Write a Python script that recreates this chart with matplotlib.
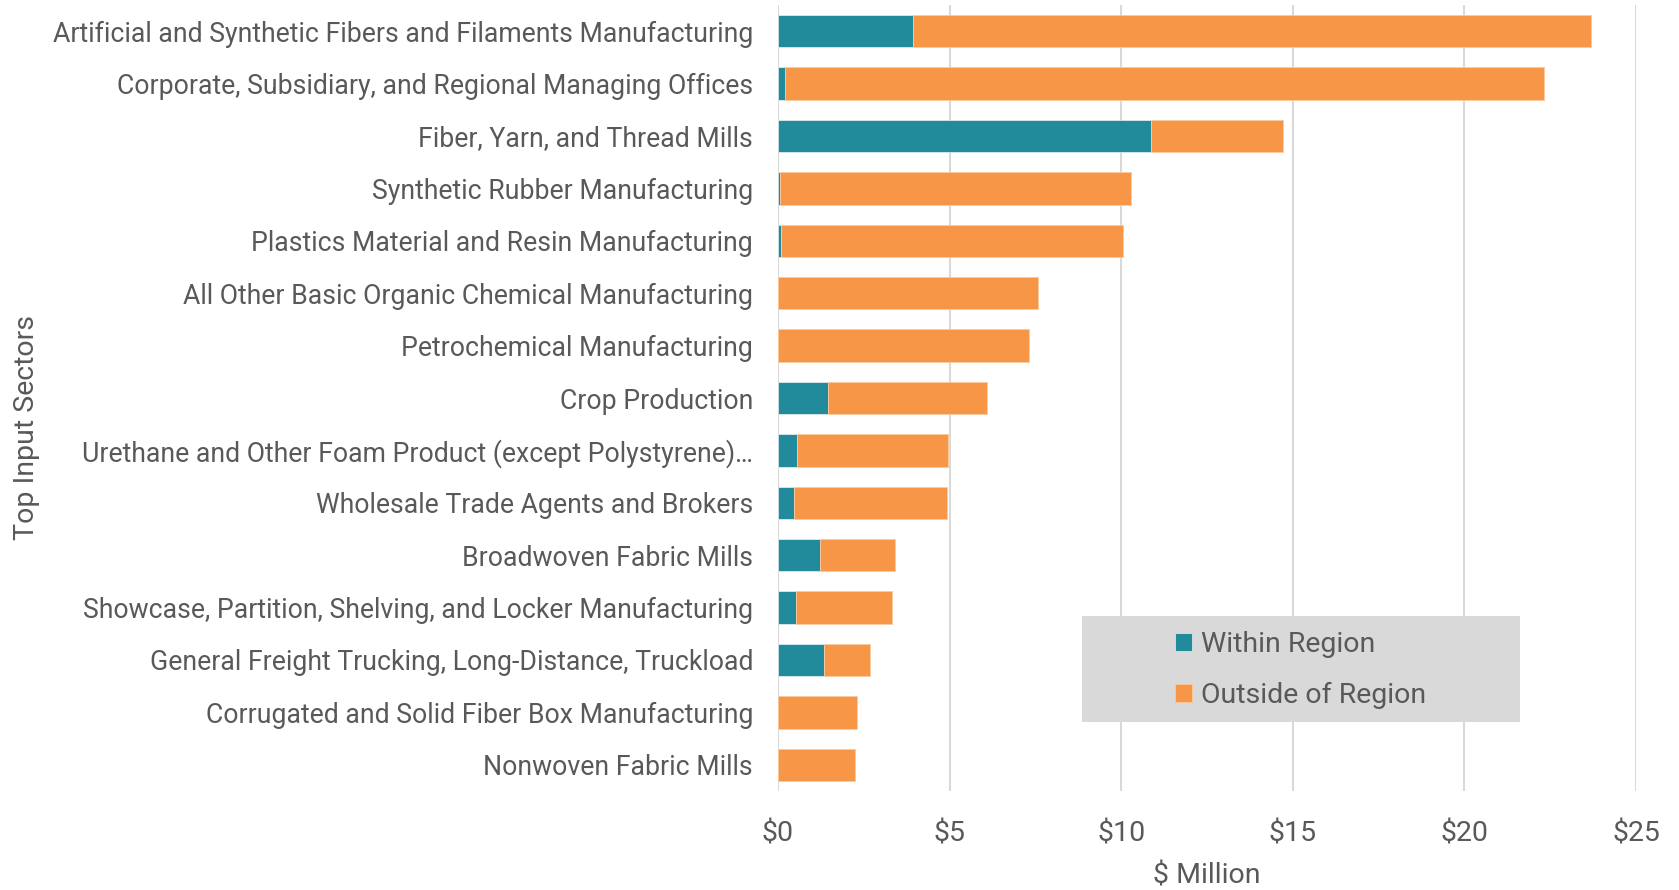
import matplotlib.pyplot as plt
from matplotlib.patches import Rectangle

plt.rcParams['font.family'] = ['Roboto', 'DejaVu Sans']

sectors = [
    "Artificial and Synthetic Fibers and Filaments Manufacturing",
    "Corporate, Subsidiary, and Regional Managing Offices",
    "Fiber, Yarn, and Thread Mills",
    "Synthetic Rubber Manufacturing",
    "Plastics Material and Resin Manufacturing",
    "All Other Basic Organic Chemical Manufacturing",
    "Petrochemical Manufacturing",
    "Crop Production",
    "Urethane and Other Foam Product (except Polystyrene)\u2026",
    "Wholesale Trade Agents and Brokers",
    "Broadwoven Fabric Mills",
    "Showcase, Partition, Shelving, and Locker Manufacturing",
    "General Freight Trucking, Long-Distance, Truckload",
    "Corrugated and Solid Fiber Box Manufacturing",
    "Nonwoven Fabric Mills",
]
within = [3.92, 0.20, 10.87, 0.05, 0.10, 0.0, 0.0, 1.47, 0.55, 0.48, 1.22, 0.52, 1.33, 0.0, 0.0]
total = [23.70, 22.33, 14.71, 10.30, 10.04, 7.58, 7.30, 6.10, 4.94, 4.91, 3.42, 3.32, 2.69, 2.29, 2.23]
outside = [t - w for t, w in zip(total, within)]

x_ticks = [0, 5, 10, 15, 20, 25]
x_labels = ['$' + str(v) for v in x_ticks]

teal = '#218B9C'
orange = '#F79646'
text_col = '#595959'

fig = plt.figure(figsize=(16.79, 8.90), dpi=100)
ax = fig.add_axes([778 / 1679, 1 - 791 / 890, 858 / 1679, 786 / 890])

pos = list(range(len(sectors)))
ax.barh(pos, within, height=0.62, color=teal, edgecolor='white', linewidth=0.4, label='Within Region')
ax.barh(pos, outside, left=within, height=0.62, color=orange, edgecolor='#FBC9A0', linewidth=0.6,
        label='Outside of Region')

ax.set_ylim(len(sectors) - 0.5, -0.5)
ax.set_xlim(0, 25)
ax.set_yticks(pos)
ax.set_yticklabels(sectors, fontsize=19.2, color=text_col)
ax.set_xticks(x_ticks)
ax.set_xticklabels(x_labels, fontsize=20.5, color=text_col)
ax.tick_params(axis='y', length=0, pad=18)
ax.tick_params(axis='x', length=0, pad=21)
for s in ax.spines.values():
    s.set_visible(False)
ax.grid(axis='x', color='#D9D9D9', linewidth=1.5)
ax.set_axisbelow(True)

ax.set_xlabel('$ Million', fontsize=20.5, color=text_col, labelpad=11)
fig.text(27 / 1679, 1 - 428 / 890, 'Top Input Sectors', rotation=90, fontsize=20.5,
         color=text_col, ha='center', va='center')

# legend box
ax.add_patch(Rectangle((0.3543, 0.0878), 0.5105, 0.1348, transform=ax.transAxes,
                       facecolor='#D9D9D9', edgecolor='none', zorder=3, clip_on=False))
leg = ax.legend(loc='center left', bbox_to_anchor=(0.4627, 0.154), frameon=False,
                fontsize=20.5, borderpad=0, borderaxespad=0, handlelength=0.6,
                handleheight=0.6, handletextpad=0.3, labelspacing=0.85)
leg.set_zorder(4)
for t in leg.get_texts():
    t.set_color(text_col)

fig.savefig('out.png', dpi=100)
